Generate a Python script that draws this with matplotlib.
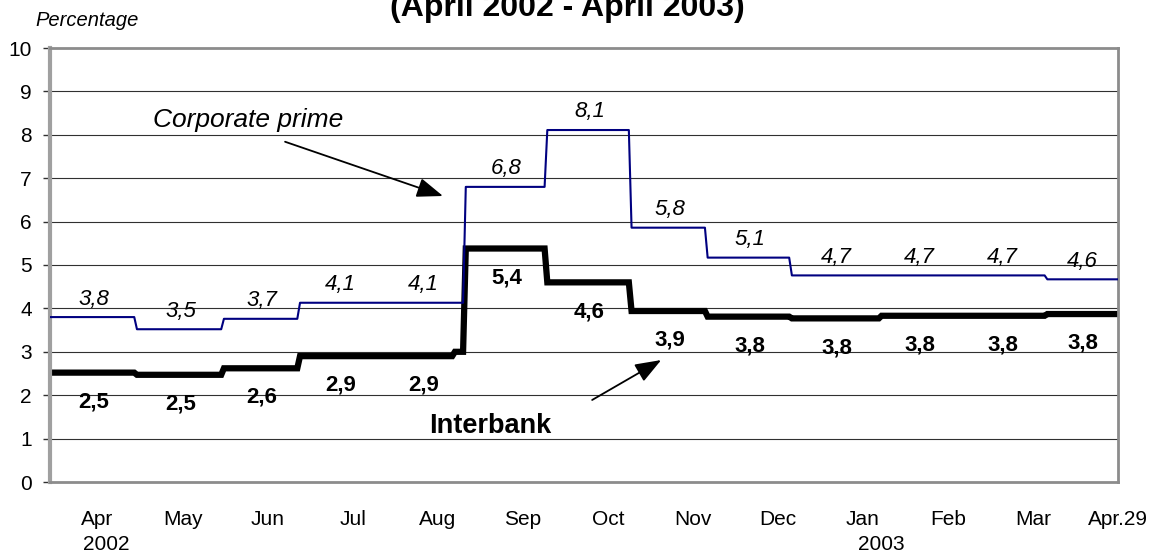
import numpy as np
import matplotlib
matplotlib.use("Agg")
import matplotlib.pyplot as plt
from matplotlib.transforms import blended_transform_factory

plt.rcParams['font.family'] = ['Liberation Sans', 'DejaVu Sans']

# monthly averages, each held from the day the rate changed
month_names = ["Apr", "May", "Jun", "Jul", "Aug", "Sep", "Oct", "Nov", "Dec",
               "Jan", "Feb", "Mar", "Apr.29"]
change_dates = ["2002-04-01", "2002-05-03", "2002-06-04", "2002-07-02", "2002-08-01",
                "2002-09-01", "2002-10-01", "2002-11-01", "2002-11-29", "2002-12-30",
                "2003-02-01", "2003-03-01", "2003-04-03"]
end_date = "2003-04-29"

prime = [3.80, 3.52, 3.76, 4.13, 4.13, 6.80, 8.11, 5.86, 5.17, 4.76, 4.76, 4.76, 4.67]
prime_lbl = ["3,8", "3,5", "3,7", "4,1", "4,1", "6,8", "8,1", "5,8", "5,1", "4,7", "4,7", "4,7", "4,6"]

inter_dates = ["2002-04-01", "2002-05-03", "2002-06-04", "2002-07-02", "2002-08-01",
               "2002-08-28", "2002-09-01", "2002-10-01", "2002-11-01", "2002-11-29",
               "2002-12-30", "2003-02-01", "2003-03-01", "2003-04-03"]
inter = [2.52, 2.47, 2.62, 2.90, 2.90, 3.00, 5.38, 4.60, 3.94, 3.81, 3.77, 3.83, 3.83, 3.87]
inter_lbl = ["2,5", "2,5", "2,6", "2,9", "2,9", "5,4", "4,6", "3,9", "3,8", "3,8", "3,8", "3,8", "3,8"]

t0 = np.datetime64("2002-04-01")


def days(d):
    return float((np.datetime64(d) - t0) / np.timedelta64(1, "D"))


def step_xy(dates, vals, end, ramp=1.0):
    xs, ys = [], []
    edges = [days(d) for d in dates] + [days(end)]
    for i, v in enumerate(vals):
        x1 = edges[i + 1] - (ramp if i < len(vals) - 1 else 0)
        xs += [edges[i], x1]
        ys += [v, v]
    return xs, ys


fig = plt.figure(figsize=(11.54, 5.54), dpi=100)
ax = fig.add_axes([50 / 1154, 1 - 482 / 554, 1068 / 1154, 434 / 554])

for y in range(1, 10):
    ax.axhline(y, color="#303030", lw=0.8, zorder=1)

px, py = step_xy(change_dates, prime, end_date)
ax.plot(px, py, color="#000080", lw=1.5, zorder=3)
ix, iy = step_xy(inter_dates, inter, end_date)
ax.plot(ix, iy, color="black", lw=4.5, solid_joinstyle="miter", zorder=2)

# value labels centred on each month
edges = [days(d) for d in change_dates] + [days(end_date)]
mids = [(edges[i] + edges[i + 1]) / 2 for i in range(len(prime))]
inter_month = [inter[i] if i < 5 else inter[i + 1] for i in range(len(prime))]
for m, v, s in zip(mids, prime, prime_lbl):
    ax.annotate(s, (m, v), xytext=(0, 13), textcoords="offset points",
                ha="center", va="center", fontsize=16, style="italic")
for m, v, s in zip(mids, inter_month, inter_lbl):
    ax.annotate(s, (m, v), xytext=(0, -21), textcoords="offset points",
                ha="center", va="center", fontsize=16, fontweight="bold")

arrow = dict(arrowstyle="-|>,head_length=1.6,head_width=0.6", color="black",
             lw=1.3, mutation_scale=10, shrinkA=0, shrinkB=0)
ax.text(73, 8.34, "Corporate prime", fontsize=19, style="italic", ha="center", va="center")
ax.annotate("", xy=(144.6, 6.59), xytext=(86.5, 7.84), arrowprops=arrow)
ax.text(162, 1.29, "Interbank", fontsize=19.5, fontweight="bold", ha="center", va="center")
ax.annotate("", xy=(224.9, 2.81), xytext=(199.5, 1.89), arrowprops=arrow)

ax.set_xlim(0, days(end_date))
ax.set_ylim(0, 10)
ax.set_yticks(range(0, 11))
ax.tick_params(axis="y", direction="out", length=5, width=1, color="#303030",
               labelsize=15, pad=8)
ticks = np.linspace(17.5, days(end_date), len(month_names))
ax.set_xticks(ticks)
ax.set_xticklabels(month_names)
ax.tick_params(axis="x", length=0, labelsize=15, pad=20)

trans = blended_transform_factory(ax.transData, ax.transAxes)
for i, yr in [(0, "2002"), (9, "2003")]:
    ax.annotate(yr, (ticks[i], 0), xycoords=trans, xytext=(6 if i == 0 else 13, -45),
                textcoords="offset points", ha="center", va="center", fontsize=15)

for side in ["top", "right", "bottom"]:
    ax.spines[side].set_color("#8c8c8c")
    ax.spines[side].set_linewidth(2)
ax.spines["left"].set_color("#a0a0a0")
ax.spines["left"].set_linewidth(3)

fig.text(567 / 1154, 1 - 16 / 554, "(April 2002 - April 2003)", ha="center",
         va="baseline", fontsize=23, fontweight="bold")
fig.text(35 / 1154, 1 - 20 / 554, "Percentage", ha="left", va="center",
         fontsize=14.5, style="italic")

fig.savefig("out.png", dpi=100)
